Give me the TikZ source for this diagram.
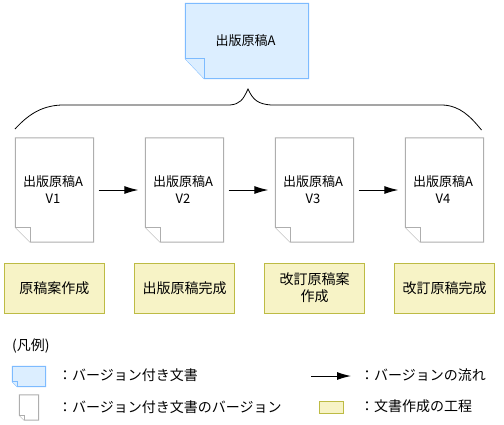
\documentclass[tikz,border=0pt]{standalone}
\usepackage{fontspec}
\setmainfont{Noto Sans CJK JP}
\usetikzlibrary{arrows.meta}
\usetikzlibrary{backgrounds}
\usetikzlibrary{calc}
\definecolor{sheetblue}{HTML}{DCEEFF}
\definecolor{edgeblue}{HTML}{7DBBFF}
\definecolor{edgegray}{HTML}{AEAEAE}
\definecolor{stepfill}{HTML}{F7F3C6}
\definecolor{stepedge}{HTML}{BDBB44}
\newcommand{\smalljp}{\fontsize{13}{17}\selectfont}
\newcommand{\largejp}{\fontsize{14}{17}\selectfont}
\newcommand{\sheettext}[1]{出版原稿A\kern3pt\\#1\kern3pt}
% folded outline behind a node: name, fold x, fold y, line and fill
\newcommand{\foldsheet}[4]{
\begin{scope}[on background layer]
\draw[#4] (#1.north west) -- (#1.north east) -- (#1.south east)
-- ($(#1.south west)+(#2,0)$) -- ($(#1.south west)+(0,-#3)$) -- cycle;
\draw[#4] ($(#1.south west)+(0,-#3)$) -- ($(#1.south west)+(#2,-#3)$)
-- ($(#1.south west)+(#2,0)$);
\end{scope}}
\tikzset{
  sheet/.style={minimum width=78pt,minimum height=104pt,inner sep=0pt,
    align=center,font=\smalljp},
  masternode/.style={minimum width=123pt,minimum height=75pt,inner sep=0pt,
    font=\smalljp},
  stepbox/.style={draw=stepedge,fill=stepfill,line width=1pt,minimum width=100pt,
    minimum height=50pt,inner sep=0pt,align=center,font=\largejp},
  legendtext/.style={anchor=west,inner sep=0pt,font=\largejp},
  flow/.style={line width=1pt,-{Latex[length=14pt,width=8pt]}},
  grayline/.style={draw=edgegray,fill=white,line width=1pt},
  blueline/.style={draw=edgeblue,fill=sheetblue,line width=1pt}
}
\begin{document}
\begin{tikzpicture}[x=1pt,y=-1pt]
\useasboundingbox (0,0) rectangle (504,424);
\node[masternode] (master) at (247,41) {出版原稿A\kern3pt};
\foldsheet{master}{19}{20}{blueline}
\node[sheet] (v1) at (54.5,190) {\sheettext{V1}};
\node[sheet] (v2) at (184.5,190) {\sheettext{V2}};
\node[sheet] (v3) at (314.5,190) {\sheettext{V3}};
\node[sheet] (v4) at (444.5,190) {\sheettext{V4}};
\foldsheet{v1}{15}{15}{grayline}
\foldsheet{v2}{15}{15}{grayline}
\foldsheet{v3}{15}{15}{grayline}
\foldsheet{v4}{15}{15}{grayline}
\draw[flow,shorten <=5pt,shorten >=7pt] (v1) -- (v2);
\draw[flow,shorten <=5pt,shorten >=7pt] (v2) -- (v3);
\draw[flow,shorten <=5pt,shorten >=7pt] (v3) -- (v4);
% brace over the four versions
\coordinate (braceleft) at (15,129);
\coordinate (braceright) at (481.5,130);
\coordinate (bracepeak) at (248,89);
\draw[line width=0.8pt] (braceleft) .. controls (27,116) and (40,106) .. (61,105)
-- (230,105) .. controls (240,104) and (243,100) .. (bracepeak)
.. controls (253,100) and (258,104) .. (271,105) -- (443,105)
.. controls (460,106) and (470,116) .. (braceright);
\node[stepbox] (draft) at (54.5,288) {原稿案作成};
\node[stepbox] (publish) at (184.5,288) {出版原稿完成};
\node[stepbox] (revise) at (314.5,288) {改訂原稿案\\作成};
\node[stepbox] (final) at (444.5,288) {改訂原稿完成};
% legend
\node[legendtext] (legendtitle) at (12,346) {(凡例)};
\node[minimum width=33pt,minimum height=20pt,inner sep=0pt] (keyblue) at (29,376.5) {};
\foldsheet{keyblue}{5}{5}{blueline}
\node[minimum width=19pt,minimum height=25pt,inner sep=0pt] (keygray) at (29,407.5) {};
\foldsheet{keygray}{5}{5}{grayline}
\node[legendtext] (textblue) at (58,375) {：バージョン付き文書};
\node[legendtext] (textgray) at (58,407) {：バージョン付き文書のバージョン};
\coordinate (keystart) at (311,376);
\coordinate (keyend) at (351,376);
\draw[flow] (keystart) -- (keyend);
\node[stepbox,minimum width=24pt,minimum height=12pt] (keystep) at (331.5,407.5) {};
\node[legendtext] (textflow) at (360,375) {：バージョンの流れ};
\node[legendtext] (textstep) at (360,406) {：文書作成の工程};
\end{tikzpicture}
\end{document}
